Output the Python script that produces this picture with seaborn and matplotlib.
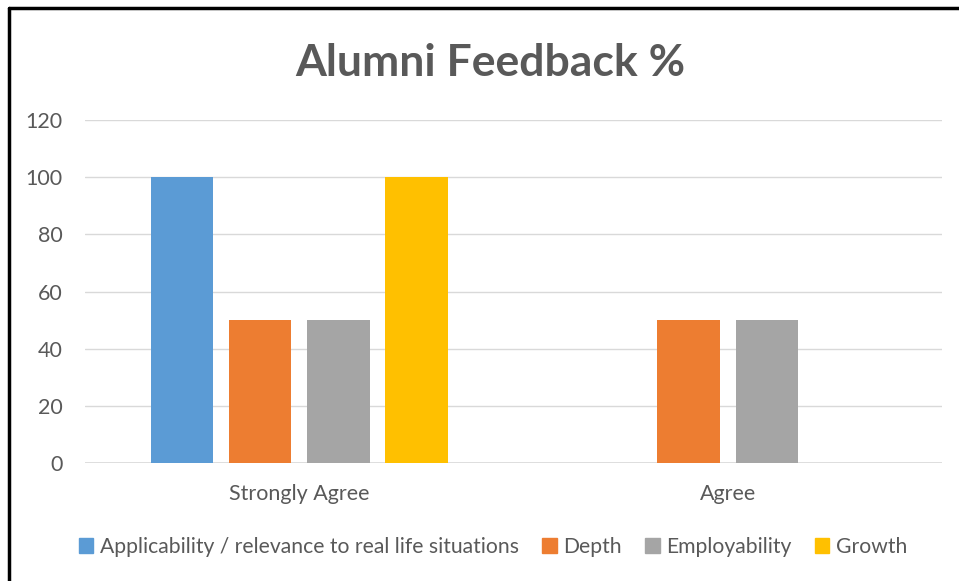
import matplotlib
matplotlib.use("Agg")
import matplotlib.pyplot as plt
import matplotlib.patches as mpatches
import seaborn as sns
import pandas as pd

# data
responses = ["Strongly Agree", "Agree"]
aspects = ["Applicability / relevance to real life situations", "Depth",
           "Employability", "Growth"]
applicability = [100, 0]
depth = [50, 50]
employability = [50, 50]
growth = [100, 0]

colors = ["#5B9BD5", "#ED7D31", "#A5A5A5", "#FFC000"]
text_col = "#595959"

df = pd.DataFrame({
    "response": responses * 4,
    "aspect": [a for a in aspects for _ in responses],
    "value": applicability + depth + employability + growth,
})

sns.set_style("white")
plt.rcParams["font.family"] = ["Lato", "DejaVu Sans"]

fig = plt.figure(figsize=(9.59, 5.81), dpi=100)
ax = fig.add_axes([85 / 959, 1 - 463 / 581, 857 / 959, 343 / 581])

sns.barplot(data=df, x="response", y="value", hue="aspect", order=responses,
            hue_order=aspects, palette=colors, width=0.729, gap=0.2,
            linewidth=0, saturation=1, legend=False, ax=ax, zorder=3)

ax.set_xlim(-0.5, 1.5)
ax.set_ylim(0, 120)
ax.set_yticks(range(0, 121, 20))
ax.grid(axis="y", color="#D9D9D9", linewidth=1, zorder=0)
for s in ["top", "right", "left", "bottom"]:
    ax.spines[s].set_visible(False)
ax.axhline(0, color="#D9D9D9", linewidth=1.2, zorder=1)
ax.set_xlabel("")
ax.set_ylabel("")
ax.tick_params(axis="both", length=0, labelsize=15.5, labelcolor=text_col)
ax.tick_params(axis="y", pad=16)
ax.tick_params(axis="x", pad=15)

fig.text(490 / 959, 1 - 63 / 581, "Alumni Feedback %", ha="center",
         va="center", fontsize=32, fontweight="bold", color=text_col)

handles = [mpatches.Patch(color=c, label=a) for c, a in zip(colors, aspects)]
fig.legend(handles=handles, loc="center", bbox_to_anchor=(0.514, 1 - 547 / 581),
           ncol=4, frameon=False, fontsize=15.2, labelcolor=text_col,
           handlelength=0.7, handleheight=0.7, handletextpad=0.3,
           columnspacing=1.1)

# chart border (left and top edges visible in the reference)
fig.add_artist(plt.Line2D([9 / 959, 9 / 959], [0, 1 - 8 / 581],
                          transform=fig.transFigure, color="black", lw=2.5))
fig.add_artist(plt.Line2D([9 / 959, 1], [1 - 8 / 581, 1 - 8 / 581],
                          transform=fig.transFigure, color="black", lw=2.5))

fig.savefig("out.png", dpi=100)
